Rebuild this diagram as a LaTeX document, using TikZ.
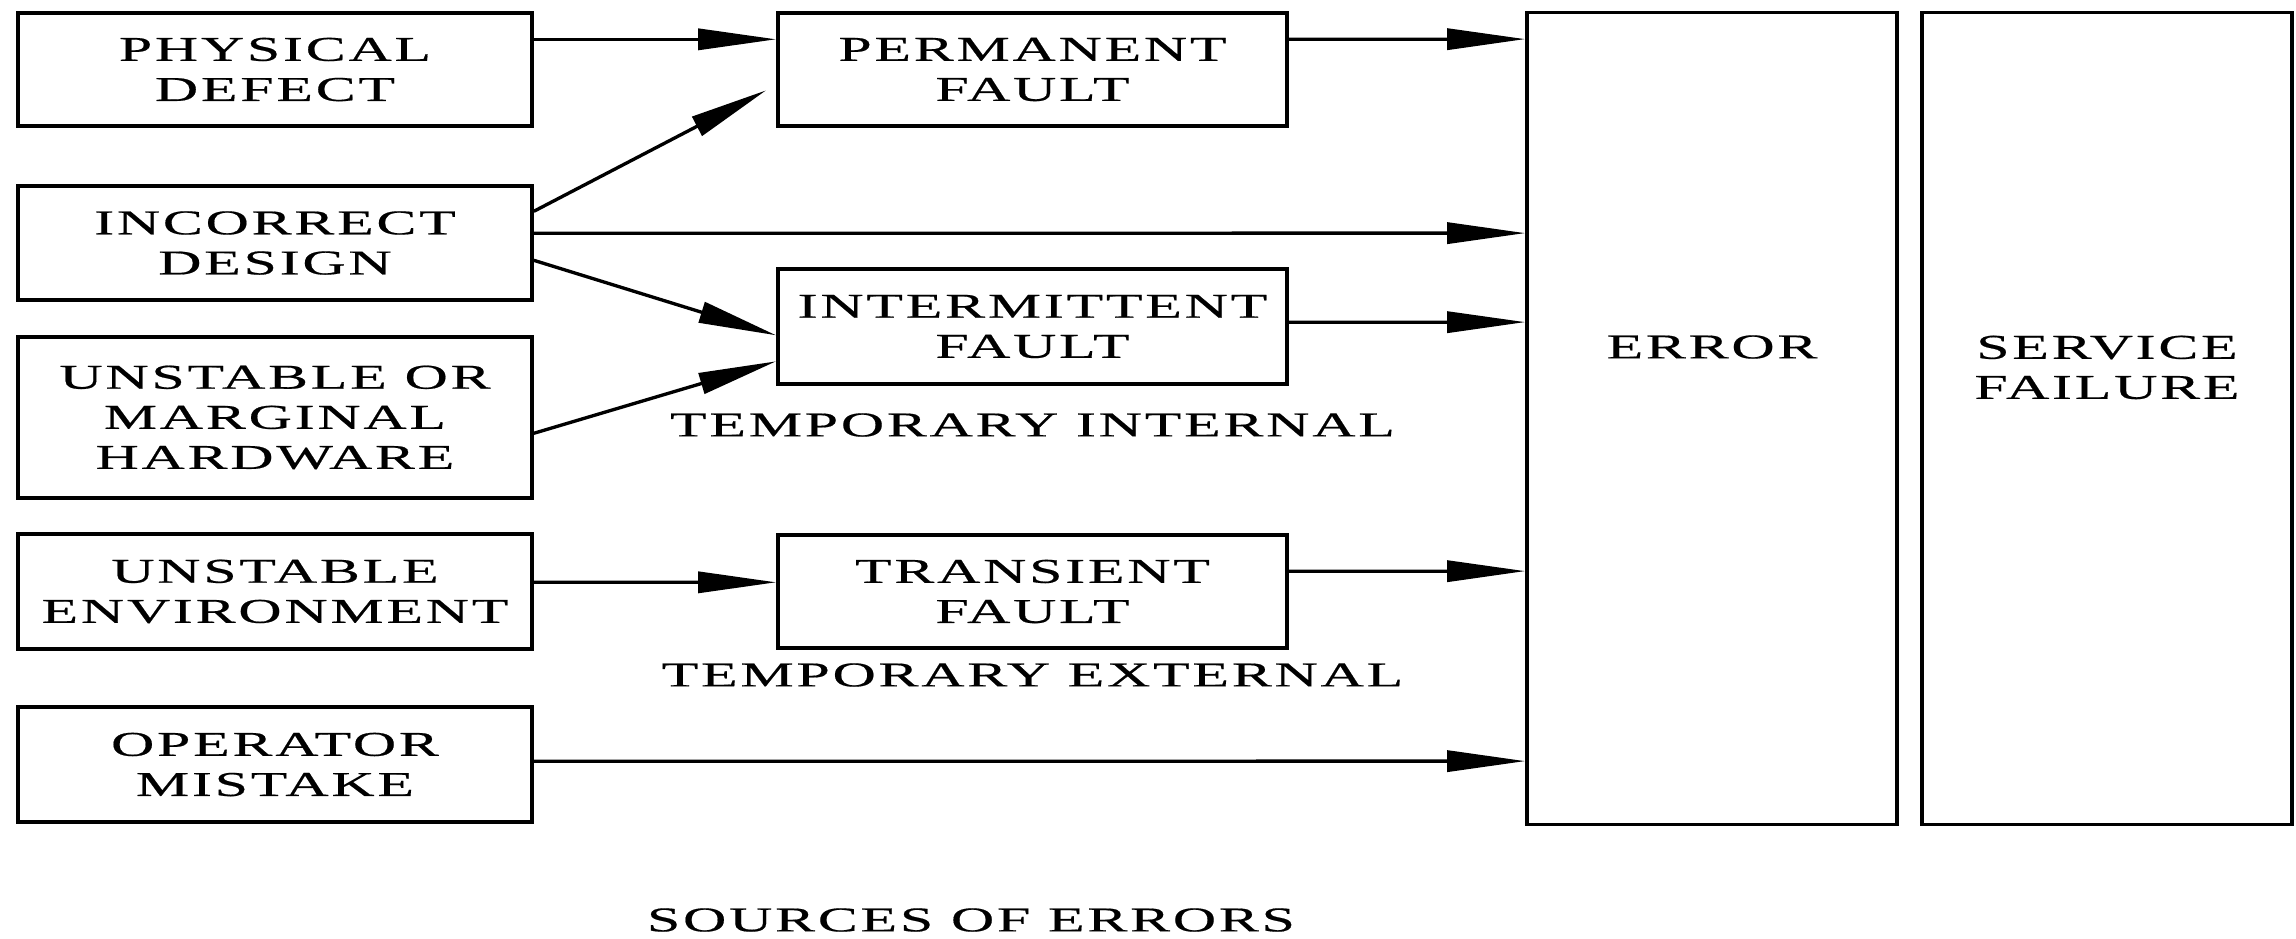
\documentclass[tikz,border=0pt]{standalone}
\usepackage{fontspec}
\setmainfont{Liberation Serif}[FakeStretch=1.72,LetterSpace=8,FakeBold=0.5]
\usetikzlibrary{arrows.meta,calc}

\begin{document}
\begin{tikzpicture}[x=0.01cm,y=-0.01cm,
    txt/.style={font=\fontsize{9.9pt}{11.4pt}\selectfont,align=center,inner sep=0pt},
    box/.style={txt,draw,line width=0.95pt,minimum width=#1},
    srcbox/.style={box=5.14cm},
    faultbox/.style={box=5.09cm},
    tallbox/.style={draw,line width=0.95pt,minimum width=3.70cm,minimum height=8.11cm,inner sep=0pt},
    arr/.style={line width=0.95pt,-{Triangle[length=7.8mm,width=2.1mm]}}]
  \useasboundingbox (0,0) rectangle (2296,938);

  % sources
  \node[srcbox,minimum height=1.13cm] (phys) at (275,69.5) {PHYSICAL\\DEFECT};
  \node[srcbox,minimum height=1.14cm] (inc)  at (275,243)  {INCORRECT\\DESIGN};
  \node[srcbox,minimum height=1.61cm] (hw)   at (275,417.5) {UNSTABLE OR\\MARGINAL\\HARDWARE};
  \node[srcbox,minimum height=1.15cm] (env)  at (275,591.5) {UNSTABLE\\ENVIRONMENT};
  \node[srcbox,minimum height=1.15cm] (op)   at (275,764.5) {OPERATOR\\MISTAKE};

  % fault kinds
  \node[faultbox,minimum height=1.13cm] (perm)  at (1032.5,69.5)  {PERMANENT\\FAULT};
  \node[faultbox,minimum height=1.15cm] (inter) at (1032.5,326.5) {INTERMITTENT\\FAULT};
  \node[faultbox,minimum height=1.13cm] (trans) at (1032.5,591.5) {TRANSIENT\\FAULT};
  \node[txt] (tint) at (1032.5,425) {TEMPORARY INTERNAL};
  \node[txt] (text) at (1032.5,675) {TEMPORARY EXTERNAL};

  % error and failure
  \node[tallbox] (err) at (1712,418.5) {};
  \node[txt] (errlbl) at (1712,347) {ERROR};
  \node[tallbox] (svc) at (2107,418.5) {};
  \node[txt,anchor=north] (svclbl) at (2107,335) {SERVICE\\FAILURE};

  \node[txt] (title) at (971,920) {SOURCES OF ERRORS};

  % connectors
  \draw[arr] ($(phys.north east)+(0,28)$) -- ($(perm.north west)+(0,28)$);
  \draw[arr] ($(inc.north east)+(0,27)$) -- ($(perm.north west)+(-10,79)$);
  \draw[arr] ($(inc.north east)+(0,49)$) -- ($(err.north west)+(0,222)$);
  \draw[arr] ($(inc.north east)+(0,76)$) -- ($(inter.north west)+(0,68)$);
  \draw[arr] ($(hw.north east)+(0,98)$) -- ($(inter.north west)+(0,94)$);
  \draw[arr] ($(env.north east)+(0,50)$) -- ($(trans.north west)+(0,49)$);
  \draw[arr] ($(op.north east)+(0,56)$) -- ($(err.north west)+(0,750)$);
  \draw[arr] ($(perm.north east)+(0,28)$) -- ($(err.north west)+(0,28)$);
  \draw[arr] ($(inter.north east)+(0,55)$) -- ($(err.north west)+(0,311)$);
  \draw[arr] ($(trans.north east)+(0,38)$) -- ($(err.north west)+(0,560)$);
\end{tikzpicture}
\end{document}
